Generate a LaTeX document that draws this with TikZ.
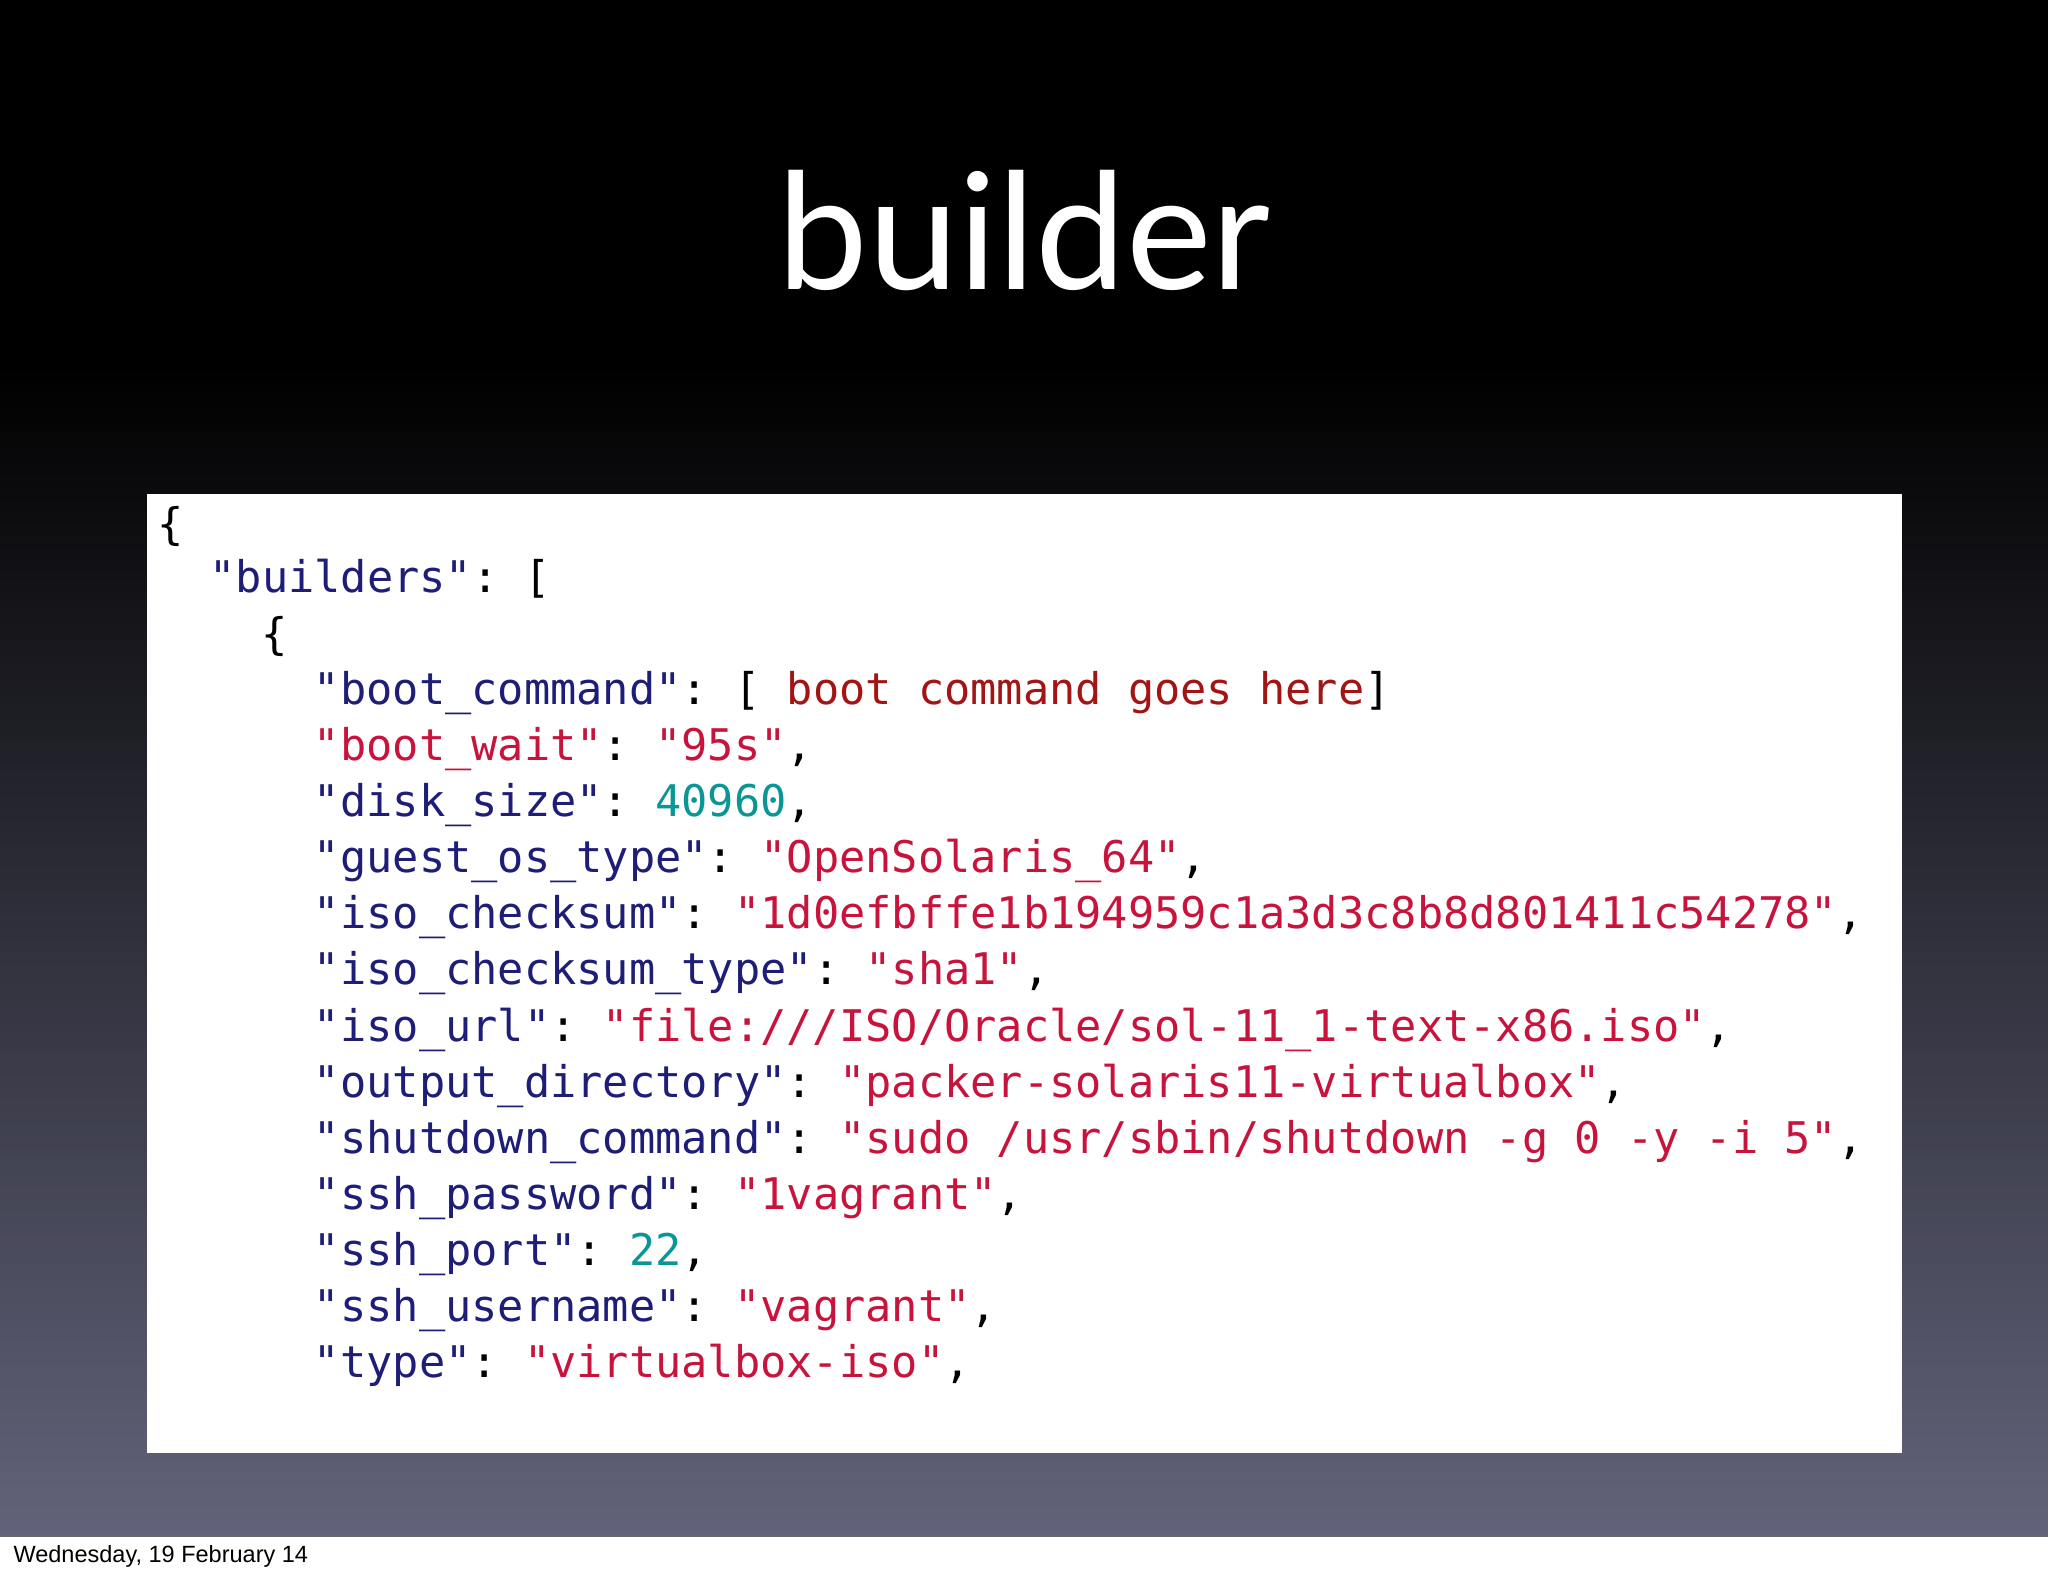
\documentclass[tikz,border=0pt]{standalone}
\usepackage{fontspec}
\newfontfamily\codefont{DejaVu Sans Mono}
\newfontfamily\titlefont{Lato}
\newfontfamily\footfont{Liberation Sans}
\definecolor{jkey}{RGB}{30,30,120}
\definecolor{jstr}{RGB}{200,20,60}
\definecolor{jnum}{RGB}{10,150,150}
\definecolor{jbc}{RGB}{163,21,21}
\definecolor{bgbot}{RGB}{98,99,122}
\newcommand{\jk}[1]{\textcolor{jkey}{#1}}
\newcommand{\js}[1]{\textcolor{jstr}{#1}}
\newcommand{\jn}[1]{\textcolor{jnum}{#1}}
\newcommand{\jb}[1]{\textcolor{jbc}{#1}}
\begin{document}
\begin{tikzpicture}[x=0.5pt,y=-0.5pt,
  code/.style={anchor=base west,inner sep=0pt,font=\codefont\fontsize{16.7}{20}\selectfont}]
\useasboundingbox (0,0) rectangle (1568,1206);
\fill[white] (0,0) rectangle (1568,1206);
\fill[black] (0,0) rectangle (1568,280);
\shade[top color=black,bottom color=bgbot] (0,279) rectangle (1568,1176);
\draw[black!60,line width=0.5pt] (0,1176) -- (1568,1176);
\node[anchor=base,inner sep=0pt,text=white,font=\titlefont\fontsize{62}{70}\selectfont] (title) at (784,222) {builder};
\node[fill=white,inner sep=0pt,minimum width=672pt,minimum height=367pt,anchor=north west] (box) at (112,378) {};
\node[code] (l1) at (120,413) {\{};
\node[code] (l2) at (160,454) {\jk{"builders"}:\ [};
\node[code] (l3) at (200,497) {\{};
\node[code] (l4) at (240,539) {\jk{"boot\_command"}:\ [\ \jb{boot\ command\ goes\ here}]};
\node[code] (l5) at (240,582) {\js{"boot\_wait"}:\ \js{"95s"},};
\node[code] (l6) at (240,625) {\jk{"disk\_size"}:\ \jn{40960},};
\node[code] (l7) at (240,668) {\jk{"guest\_os\_type"}:\ \js{"OpenSolaris\_64"},};
\node[code] (l8) at (240,711) {\jk{"iso\_checksum"}:\ \js{"1d0efbffe1b194959c1a3d3c8b8d801411c54278"},};
\node[code] (l9) at (240,754) {\jk{"iso\_checksum\_type"}:\ \js{"sha1"},};
\node[code] (l10) at (240,797) {\jk{"iso\_url"}:\ \js{"file:///ISO/Oracle/sol-11\_1-text-x86.iso"},};
\node[code] (l11) at (240,840) {\jk{"output\_directory"}:\ \js{"packer-solaris11-virtualbox"},};
\node[code] (l12) at (240,883) {\jk{"shutdown\_command"}:\ \js{"sudo\ /usr/sbin/shutdown\ -g\ 0\ -y\ -i\ 5"},};
\node[code] (l13) at (240,926) {\jk{"ssh\_password"}:\ \js{"1vagrant"},};
\node[code] (l14) at (240,969) {\jk{"ssh\_port"}:\ \jn{22},};
\node[code] (l15) at (240,1012) {\jk{"ssh\_username"}:\ \js{"vagrant"},};
\node[code] (l16) at (240,1055) {\jk{"type"}:\ \js{"virtualbox-iso"},};
\node[anchor=base west,inner sep=0pt,font=\footfont\fontsize{9}{11}\selectfont] (foot) at (10,1196) {Wednesday, 19 February 14};
\end{tikzpicture}
\end{document}
